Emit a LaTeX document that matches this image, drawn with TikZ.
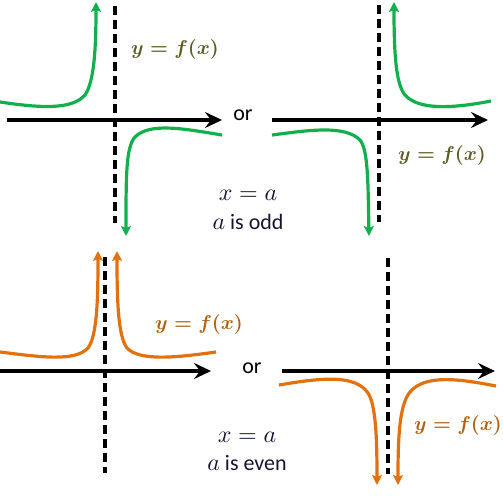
\documentclass[tikz,border=0pt]{standalone}
\usepackage{fontspec}
\setmainfont{Carlito}
\usetikzlibrary{arrows.meta}
\definecolor{cgreen}{HTML}{12B04C}
\definecolor{corange}{HTML}{E2720F}
\definecolor{lblolive}{HTML}{5E5A22}
\definecolor{lblorange}{HTML}{B2600F}
\definecolor{mathblk}{HTML}{151530}
\newcommand{\fxlbl}{\scalebox{2.0}{\normalsize\boldmath$y=f(x)$}}
\newcommand{\mth}[1]{\scalebox{2.4}{\normalsize$#1$}}
\tikzset{
  axisline/.style={line width=3.2pt,-{Stealth[length=17pt,width=16pt,inset=6pt]}},
  asym/.style={line width=3.2pt,dash pattern=on 9pt off 5pt},
  gcurve/.style={line width=3.2pt,cgreen,-{Stealth[length=10pt,width=10pt,inset=2pt]}},
  ocurve/.style={line width=3.2pt,corange,-{Stealth[length=10pt,width=10pt,inset=2pt]}},
  flbl/.style={font=\normalsize,inner sep=0pt},
  ortxt/.style={font=\fontsize{22}{24}\selectfont,inner sep=0pt},
  eqtxt/.style={font=\fontsize{22}{24}\selectfont,text=mathblk,inner sep=0pt},
}
\begin{document}
\begin{tikzpicture}[x=1pt,y=-1pt]
\useasboundingbox (0,0) rectangle (503,496);
% ---------- top left
\coordinate (tlA0) at (7,120);  \coordinate (tlA1) at (222,120);
\coordinate (tlD0) at (115,6);  \coordinate (tlD1) at (115,223);
\draw[axisline] (tlA0) -- (tlA1);
\draw[asym] (tlD0) -- (tlD1);
\draw[gcurve] (0,102) .. controls (40,108) and (72,110) .. (85,95) .. controls (94,82) and (96,50) .. (96,2);
\draw[gcurve] (222,135) .. controls (185,129) and (150,122) .. (135,137) .. controls (126,147) and (126,175) .. (126,236);
\node[flbl,text=lblolive] (tlL) at (175,49) {\fxlbl};
% ---------- top right
\coordinate (trA0) at (272,120);  \coordinate (trA1) at (488,120);
\coordinate (trD0) at (379,5);  \coordinate (trD1) at (379,222);
\draw[axisline] (trA0) -- (trA1);
\draw[asym] (trD0) -- (trD1);
\draw[gcurve] (491,101) .. controls (460,107) and (420,112) .. (405,95) .. controls (396,84) and (394,55) .. (394,2);
\draw[gcurve] (272,135) .. controls (310,130) and (345,125) .. (360,140) .. controls (368,150) and (368,180) .. (369,236);
\node[flbl,text=lblolive] (trL) at (442,155) {\fxlbl};
% ---------- top center
\node[ortxt] (or1) at (243,115) {or};
\node[eqtxt] (eq1) at (248,195) {\mth{x=a}};
\node[eqtxt] (par1) at (248,222) {\mth{a} is odd};
% ---------- bottom left
\coordinate (blA0) at (0,371);  \coordinate (blA1) at (211,371);
\coordinate (blD0) at (105,257);  \coordinate (blD1) at (105,473);
\draw[axisline] (blA0) -- (blA1);
\draw[asym] (blD0) -- (blD1);
\draw[ocurve] (0,352) .. controls (40,357) and (75,362) .. (88,348) .. controls (97,336) and (98,300) .. (98,251);
\draw[ocurve] (216,352) .. controls (180,357) and (140,362) .. (127,348) .. controls (118,336) and (117,300) .. (117,251);
\node[flbl,text=lblorange] (blL) at (199,324) {\fxlbl};
% ---------- bottom right
\coordinate (brA0) at (282,371);  \coordinate (brA1) at (495,371);
\coordinate (brD0) at (388,258);  \coordinate (brD1) at (388,474);
\draw[axisline] (brA0) -- (brA1);
\draw[asym] (brD0) -- (brD1);
\draw[ocurve] (279,385) .. controls (320,378) and (355,374) .. (368,393) .. controls (376,405) and (377,440) .. (377,485);
\draw[ocurve] (496,386) .. controls (460,379) and (425,374) .. (410,392) .. controls (399,405) and (398,440) .. (398,485);
\node[flbl,text=lblorange] (brL) at (458,425) {\fxlbl};
% ---------- bottom center
\node[ortxt] (or2) at (252,368) {or};
\node[eqtxt] (eq2) at (247,437) {\mth{x=a}};
\node[eqtxt] (par2) at (247,463) {\mth{a} is even};
\end{tikzpicture}
\end{document}
